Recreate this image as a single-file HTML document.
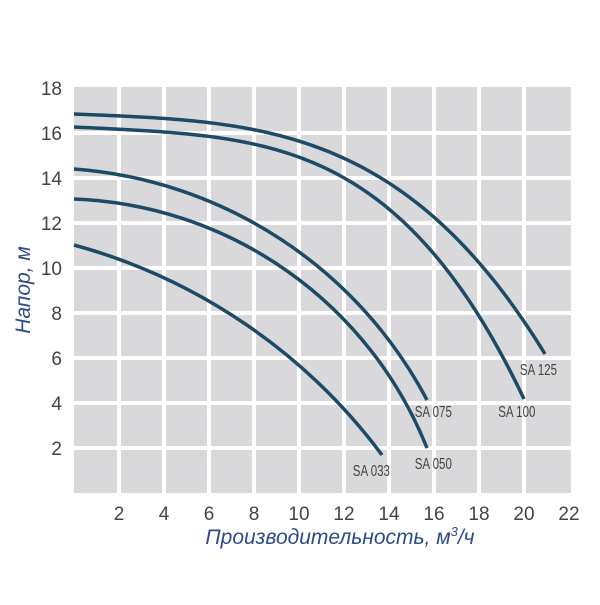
<!DOCTYPE html>
<html><head><meta charset="utf-8"><style>
html,body{margin:0;padding:0;background:#fff;}
</style></head><body>
<svg id="s" width="600" height="600" xmlns="http://www.w3.org/2000/svg">
<rect x="74" y="87" width="497" height="406" fill="#d9d9db"/>
<g stroke="#fff" stroke-width="4">
<line x1="119" y1="85" x2="119" y2="495"/><line x1="164" y1="85" x2="164" y2="495"/>
<line x1="209" y1="85" x2="209" y2="495"/><line x1="254" y1="85" x2="254" y2="495"/>
<line x1="299" y1="85" x2="299" y2="495"/><line x1="344" y1="85" x2="344" y2="495"/>
<line x1="389" y1="85" x2="389" y2="495"/><line x1="434" y1="85" x2="434" y2="495"/>
<line x1="479" y1="85" x2="479" y2="495"/><line x1="524" y1="85" x2="524" y2="495"/>
<line x1="72" y1="133" x2="572" y2="133"/><line x1="72" y1="178" x2="572" y2="178"/>
<line x1="72" y1="223" x2="572" y2="223"/><line x1="72" y1="268" x2="572" y2="268"/>
<line x1="72" y1="313" x2="572" y2="313"/><line x1="72" y1="358" x2="572" y2="358"/>
<line x1="72" y1="403" x2="572" y2="403"/><line x1="72" y1="448" x2="572" y2="448"/>
</g>
<g id="curves" fill="none" stroke="#1d4a66" stroke-width="3.5"></g>
<g font-family="Liberation Sans, sans-serif" font-size="16" fill="#444" transform="scale(0.72,1)">
<text x="722" y="375">SA 125</text>
<text x="692" y="417">SA 100</text>
<text x="576" y="417">SA 075</text>
<text x="576" y="469">SA 050</text>
<text x="490" y="476">SA 033</text>
</g>
<g font-family="Liberation Sans, sans-serif" font-size="19" fill="#444" text-anchor="end">
<text x="62" y="95">18</text><text x="62" y="140">16</text><text x="62" y="185">14</text>
<text x="62" y="230">12</text><text x="62" y="275">10</text><text x="62" y="320">8</text>
<text x="62" y="365">6</text><text x="62" y="410">4</text><text x="62" y="455">2</text>
</g>
<g font-family="Liberation Sans, sans-serif" font-size="19" fill="#444" text-anchor="middle">
<text x="119" y="520">2</text><text x="164" y="520">4</text><text x="209" y="520">6</text>
<text x="254" y="520">8</text><text x="299" y="520">10</text><text x="344" y="520">12</text>
<text x="389" y="520">14</text><text x="434" y="520">16</text><text x="479" y="520">18</text>
<text x="524" y="520">20</text><text x="569" y="520">22</text>
</g>
<text x="340" y="544" font-family="Liberation Sans, sans-serif" font-size="21" font-style="italic" fill="#2c4a8c" text-anchor="middle">Производительность, м<tspan font-size="13" dy="-8">3</tspan><tspan dy="8">/ч</tspan></text>
<text transform="translate(30,290) rotate(-90)" font-family="Liberation Sans, sans-serif" font-size="21" font-style="italic" fill="#2c4a8c" text-anchor="middle">Напор, м</text>
</svg>
<script>
var g=document.getElementById('curves');
function add(d){var e=document.createElementNS('http://www.w3.org/2000/svg','path');e.setAttribute('d',d);g.appendChild(e);}
[[114,545,354,3.4],[127,524,399,3.7]].forEach(function(c){
 var d='';for(var i=0;i<=100;i++){var t=i/100;var x=74+t*(c[1]-74);var f=0.08*t+0.92*Math.pow(t,c[3]);var y=c[0]+(c[2]-c[0])*f;d+=(i?' L':'M')+x.toFixed(2)+' '+y.toFixed(2);}add(d);
});
var data=[
[[74,169],[254,223],[427,400]],
[[74,199],[254,250],[427,448]],
[[74,245],[254,330],[382,455]]
];
data.forEach(function(p){
 var a=p[0],b=p[1],c=p[2];
 var A1=2*(b[0]-a[0]),B1=2*(b[1]-a[1]),C1=b[0]*b[0]-a[0]*a[0]+b[1]*b[1]-a[1]*a[1];
 var A2=2*(c[0]-b[0]),B2=2*(c[1]-b[1]),C2=c[0]*c[0]-b[0]*b[0]+c[1]*c[1]-b[1]*b[1];
 var det=A1*B2-A2*B1;
 var h=(C1*B2-C2*B1)/det,k=(A1*C2-A2*C1)/det;
 var R=Math.sqrt((a[0]-h)*(a[0]-h)+(a[1]-k)*(a[1]-k));
 add('M'+a[0]+' '+a[1]+' A'+R+' '+R+' 0 0 1 '+c[0]+' '+c[1]);
});
</script>
</body></html>
